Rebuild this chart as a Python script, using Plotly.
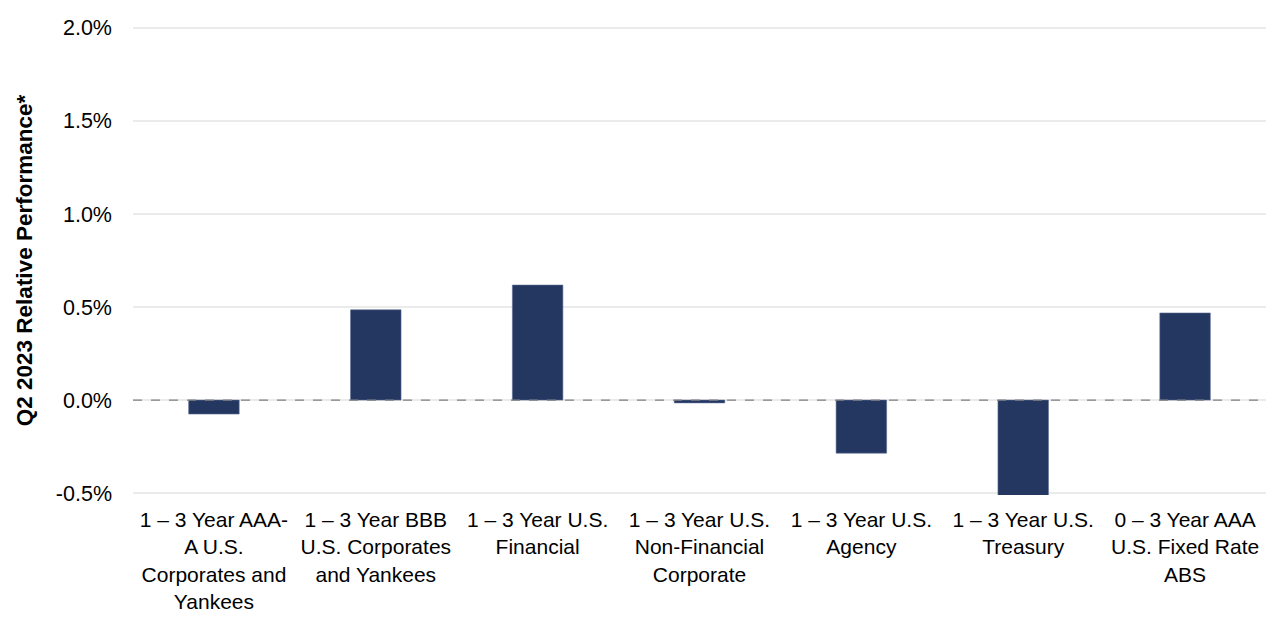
import plotly.graph_objects as go

# categories (wrapped as in the source) and Q2 2023 relative performance, in %
categories = [
    "1 – 3 Year AAA-<br>A U.S.<br>Corporates and<br>Yankees",
    "1 – 3 Year BBB<br>U.S. Corporates<br>and Yankees",
    "1 – 3 Year U.S.<br>Financial",
    "1 – 3 Year U.S.<br>Non-Financial<br>Corporate",
    "1 – 3 Year U.S.<br>Agency",
    "1 – 3 Year U.S.<br>Treasury",
    "0 – 3 Year AAA<br>U.S. Fixed Rate<br>ABS",
]
performance = [-0.075, 0.485, 0.618, -0.015, -0.285, -0.53, 0.468]

y_ticks = [-0.5, 0.0, 0.5, 1.0, 1.5, 2.0]
y_tick_labels = ["-0.5%", "0.0%", "0.5%", "1.0%", "1.5%", "2.0%"]

fig = go.Figure()
fig.add_trace(go.Bar(
    x=categories,
    y=performance,
    marker=dict(color="#243760", line=dict(color="#5a6d94", width=0.6)),
    hoverinfo="y",
))

# dashed zero line across the plot
fig.add_hline(y=0, line=dict(color="#808080", width=1.3, dash="dash"), layer="above")

# margins account for the 8px page margin the browser adds around the plot
fig.update_layout(
    width=1280, height=620,
    margin=dict(l=125, r=22, t=18, b=133),
    plot_bgcolor="white", paper_bgcolor="white",
    font=dict(family="Liberation Sans, Arial, sans-serif", size=21, color="black"),
    bargap=0.688,
    showlegend=False,
)
fig.update_xaxes(
    showgrid=False, showline=False, ticks="",
    tickfont=dict(size=21), ticklabelstandoff=10,
    automargin=False,
)
fig.update_yaxes(
    range=[-0.51, 2.01],
    tickvals=y_ticks, ticktext=y_tick_labels,
    tickfont=dict(size=21.5),
    showgrid=True, gridcolor="#ebebeb", gridwidth=1.5,
    zeroline=False, showline=False, ticks="",
    ticklabelstandoff=20,
    automargin=False,
    title=dict(text="Q2 2023 Relative Performance*",
               font=dict(size=22.5, color="black", weight="bold"),
               standoff=16),
)

fig.write_html("out.html")
